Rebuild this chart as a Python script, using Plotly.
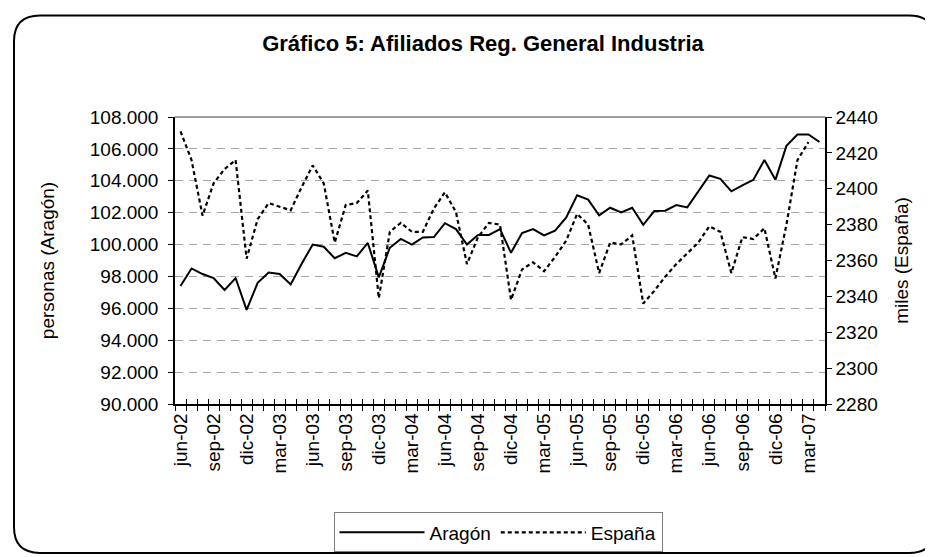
import plotly.graph_objects as go

months = ["jun-02","jul-02","ago-02","sep-02","oct-02","nov-02","dic-02",
          "ene-03","feb-03","mar-03","abr-03","may-03","jun-03","jul-03","ago-03","sep-03","oct-03","nov-03","dic-03",
          "ene-04","feb-04","mar-04","abr-04","may-04","jun-04","jul-04","ago-04","sep-04","oct-04","nov-04","dic-04",
          "ene-05","feb-05","mar-05","abr-05","may-05","jun-05","jul-05","ago-05","sep-05","oct-05","nov-05","dic-05",
          "ene-06","feb-06","mar-06","abr-06","may-06","jun-06","jul-06","ago-06","sep-06","oct-06","nov-06","dic-06",
          "ene-07","feb-07","mar-07","abr-07"]

aragon = [97400, 98500, 98150, 97900, 97150, 97900, 95900,
          97600, 98250, 98150, 97500, 98800, 100000, 99860, 99140, 99480, 99260, 100100, 97940,
          99800, 100350, 100000, 100450, 100470, 101340, 100970, 100000, 100600, 100600, 100970, 99480,
          100720, 100970, 100580, 100870, 101690, 103090, 102820, 101830, 102310, 102020, 102310, 101240,
          102100, 102120, 102480, 102330, 103340, 104330, 104120, 103340, 103710, 104060, 105300, 104060,
          106190, 106900, 106900, 106430]

espana = [2432, 2416, 2385, 2403, 2411, 2416, 2361,
          2383, 2392, 2390, 2388, 2401, 2413, 2403, 2370, 2391, 2392, 2399, 2339,
          2376, 2381, 2376, 2376, 2389, 2398, 2387, 2358, 2373, 2381, 2380, 2338,
          2355, 2359, 2354, 2362, 2371, 2386, 2380, 2353, 2370, 2369, 2374, 2336,
          2343, 2351, 2358, 2364, 2370, 2379, 2376, 2353, 2373, 2372, 2378, 2350,
          2380, 2416, 2426, None]

tick_labels = [m if i % 3 == 0 else "" for i, m in enumerate(months)]

FONT = "Liberation Sans, Arial, sans-serif"
W, H = 933, 557
L, R, T, B = 167, 116, 109, 157
PW, PH = W - L - R, H - T - B

def px(x):
    return (x - L) / PW

def py(y):
    return (H - B - y) / PH

fig = go.Figure()
fig.add_trace(go.Scatter(x=months, y=aragon, name="Aragón", mode="lines",
                         line=dict(color="black", width=2), yaxis="y"))
fig.add_trace(go.Scatter(x=months, y=espana, name="España", mode="lines",
                         line=dict(color="black", width=2.2, dash="4px,3px"), yaxis="y2"))

# rounded outer border
x0, x1, y0, y1, r = 6, 927, 6, 551, 26
path = (f"M {px(x0+r)},{py(y0)} L {px(x1-r)},{py(y0)} Q {px(x1)},{py(y0)} {px(x1)},{py(y0+r)} "
        f"L {px(x1)},{py(y1-r)} Q {px(x1)},{py(y1)} {px(x1-r)},{py(y1)} "
        f"L {px(x0+r)},{py(y1)} Q {px(x0)},{py(y1)} {px(x0)},{py(y1-r)} "
        f"L {px(x0)},{py(y0+r)} Q {px(x0)},{py(y0)} {px(x0+r)},{py(y0)} Z")
shapes = [
    dict(type="path", xref="paper", yref="paper", path=path,
         line=dict(color="black", width=2), layer="below"),
    dict(type="line", xref="paper", yref="paper", x0=0, x1=1, y0=1, y1=1,
         line=dict(color="#808080", width=1.5)),
]

fig.update_layout(
    width=W, height=H,
    margin=dict(l=L, r=R, t=T, b=B),
    paper_bgcolor="white", plot_bgcolor="white",
    separators=",.",
    font=dict(family=FONT, size=19, color="black"),
    title=dict(text="<b>Gráfico 5: Afiliados Reg. General Industria</b>",
               x=475 / W, xanchor="center", y=1 - 35 / H, yanchor="middle",
               font=dict(family=FONT, size=22, color="black")),
    xaxis=dict(type="category", tickmode="array", tickvals=months, ticktext=tick_labels,
               tickangle=-90, tickson="boundaries", ticks="outside", ticklen=5,
               tickcolor="black", showline=True, linecolor="black", linewidth=1.5,
               showgrid=False, range=[-0.5, len(months) - 0.5],
               tickfont=dict(size=19)),
    xaxis2=dict(overlaying="x", anchor="y", range=[-0.5, len(months) - 0.5],
                tickmode="linear", tick0=-0.5, dtick=1, ticks="inside", ticklen=5,
                tickcolor="black", showticklabels=False, showgrid=False, showline=False,
                zeroline=False),
    yaxis=dict(range=[90000, 108000], dtick=2000, tickformat=",d",
               ticks="outside", ticklen=5, tickcolor="black", ticklabelstandoff=6,
               showline=True, linecolor="black", linewidth=1.5,
               showgrid=True, gridcolor="#a6a6a6", griddash="8px,6px", gridwidth=1,
               zeroline=False,
               title=dict(text="personas (Aragón)", standoff=30, font=dict(size=19))),
    yaxis2=dict(range=[2280, 2440], dtick=20, tickformat="d", overlaying="y", side="right",
                ticks="outside", ticklen=5, tickcolor="black",
                showline=True, linecolor="black", linewidth=1.5, showgrid=False,
                zeroline=False,
                title=dict(text="miles (España)", standoff=18, font=dict(size=19))),
    legend=dict(orientation="h", x=px(490), xanchor="center", y=py(510), yanchor="top",
                bordercolor="#808080", borderwidth=1, font=dict(size=19),
                itemwidth=85),
    shapes=shapes,
    showlegend=True,
)

# dummy trace to register the tick-overlay axis
fig.add_trace(go.Scatter(x=[None], y=[None], xaxis="x2", yaxis="y", showlegend=False,
                         hoverinfo="skip"))

fig.write_html("out.html")
